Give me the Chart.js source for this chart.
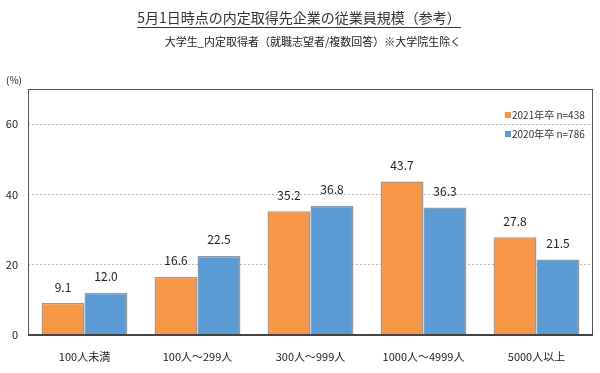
<!DOCTYPE html>
<html>
<head>
<meta charset="utf-8">
<script src="https://cdn.jsdelivr.net/npm/chart.js@4"></script>
<style>
  html, body { margin: 0; padding: 0; background: #fff; }
  #wrap { width: 600px; height: 373px; position: relative; }
</style>
</head>
<body>
<div id="wrap"><canvas id="chart" width="600" height="373"></canvas></div>
<script>
// Data
const categories = ['100人未満', '100人～299人', '300人～999人', '1000人～4999人', '5000人以上'];
const values2021 = [9.1, 16.6, 35.2, 43.7, 27.8];
const values2020 = [12.0, 22.5, 36.8, 36.3, 21.5];
const seriesLabels = ['2021年卒 n=438', '2020年卒 n=786'];
const yTicks = [0, 20, 40, 60];

const FONT = '"Noto Sans CJK JP", "Noto Sans", sans-serif';
const ORANGE = '#F79646';
const BLUE = '#5B9BD5';

// Title, subtitle, unit label, frame, legend and value labels
const decorPlugin = {
    id: 'decor',
    afterDraw(chart) {
        const ctx = chart.ctx;
        const area = chart.chartArea;
        ctx.save();

        // title
        ctx.fillStyle = '#333';
        ctx.font = '14px ' + FONT;
        ctx.textAlign = 'center';
        ctx.textBaseline = 'middle';
        const title = '5月1日時点の内定取得先企業の従業員規模（参考）';
        ctx.fillText(title, 299, 18);
        const tw = ctx.measureText(title).width;
        ctx.strokeStyle = '#333';
        ctx.lineWidth = 1;
        ctx.beginPath();
        ctx.moveTo(299 - tw / 2, 27.5);
        ctx.lineTo(299 + tw / 2, 27.5);
        ctx.stroke();

        // subtitle
        ctx.fillStyle = '#222';
        ctx.font = '11px ' + FONT;
        ctx.fillText('大学生_内定取得者（就職志望者/複数回答）※大学院生除く', 313, 42);

        // unit
        ctx.textAlign = 'left';
        ctx.font = '10px ' + FONT;
        ctx.fillText('(%)', 6, 80);

        // frame
        ctx.strokeStyle = '#555';
        ctx.lineWidth = 1;
        ctx.strokeRect(area.left + 0.5, area.top + 0.5, area.right - area.left - 1, area.bottom - area.top);
        ctx.lineWidth = 2;
        ctx.strokeStyle = '#444';
        ctx.beginPath();
        ctx.moveTo(area.left, area.bottom);
        ctx.lineTo(area.right, area.bottom);
        ctx.stroke();

        // legend
        ctx.font = '10px ' + FONT;
        ctx.textBaseline = 'middle';
        chart.data.datasets.forEach((ds, i) => {
            const y = 115 + i * 19;
            ctx.fillStyle = ds.backgroundColor;
            ctx.fillRect(505, y - 3, 6, 6);
            ctx.fillStyle = '#333';
            ctx.fillText(ds.label, 512, y);
        });

        // value labels
        ctx.font = '12px ' + FONT;
        ctx.textAlign = 'center';
        ctx.fillStyle = '#222';
        chart.data.datasets.forEach((ds, i) => {
            chart.getDatasetMeta(i).data.forEach((bar, j) => {
                ctx.fillText(ds.data[j].toFixed(1), bar.x, bar.y - 16);
            });
        });

        ctx.restore();
    }
};

const chart = new Chart(document.getElementById('chart').getContext('2d'), {
    type: 'bar',
    data: {
        labels: categories,
        datasets: [
            { label: seriesLabels[0], data: values2021, backgroundColor: ORANGE, borderColor: '#9a9a9a', borderWidth: 1.5 },
            { label: seriesLabels[1], data: values2020, backgroundColor: BLUE, borderColor: '#9a9a9a', borderWidth: 1.5 }
        ]
    },
    options: {
        responsive: false,
        animation: false,
        layout: { padding: { top: 89, right: 7, left: 0, bottom: 0 } },
        datasets: { bar: { barPercentage: 1, categoryPercentage: 0.76 } },
        plugins: {
            legend: { display: false },
            tooltip: { enabled: false }
        },
        scales: {
            x: {
                afterFit: (axis) => { axis.height = 38; },
                grid: { display: false },
                border: { display: false },
                ticks: { color: '#222', font: { family: FONT, size: 11 }, padding: 7, maxRotation: 0 }
            },
            y: {
                min: 0,
                max: 70,
                afterBuildTicks: (axis) => { axis.ticks = yTicks.map(v => ({ value: v })); },
                afterFit: (axis) => { axis.width = 28; },
                grid: {
                    color: (c) => c.tick.value === 0 ? 'rgba(0,0,0,0)' : '#b8b8b8',
                    drawTicks: false
                },
                border: { display: false, dash: [2, 2] },
                ticks: { color: '#222', font: { family: FONT, size: 11 }, padding: 10 }
            }
        }
    },
    plugins: [decorPlugin]
});
</script>
</body>
</html>
